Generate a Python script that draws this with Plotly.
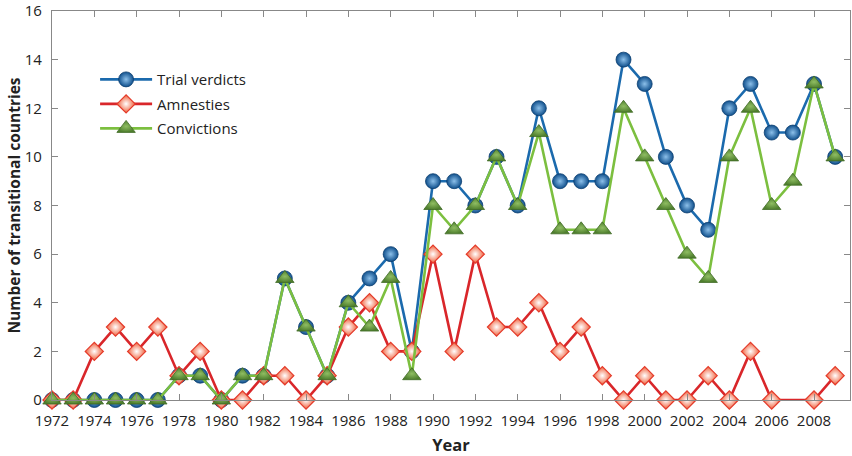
import plotly.graph_objects as go

years = list(range(1972, 2010))
trial_verdicts = [0, 0, 0, 0, 0, 0, 1, 1, 0, 1, 1, 5, 3, 1, 4, 5, 6, 2, 9, 9,
                  8, 10, 8, 12, 9, 9, 9, 14, 13, 10, 8, 7, 12, 13, 11, 11, 13, 10]
amnesties = [0, 0, 2, 3, 2, 3, 1, 2, 0, 0, 1, 1, 0, 1, 3, 4, 2, 2, 6, 2,
             6, 3, 3, 4, 2, 3, 1, 0, 1, 0, 0, 1, 0, 2, 0, None, 0, 1]
convictions = [0, 0, 0, 0, 0, 0, 1, 1, 0, 1, 1, 5, 3, 1, 4, 3, 5, 1, 8, 7,
               8, 10, 8, 11, 7, 7, 7, 12, 10, 8, 6, 5, 10, 12, 8, 9, 13, 10]
x_ticks = list(range(1972, 2010, 2))
y_ticks = list(range(0, 17, 2))

FONT = "Open Sans"

fig = go.Figure()
fig.add_trace(go.Scatter(
    x=years, y=trial_verdicts, name="Trial verdicts", mode="lines+markers",
    legendgroup="a",
    line=dict(color="#1b6aad", width=2.6),
    marker=dict(symbol="circle", size=15, color="#0f4f8c",
                gradient=dict(type="radial", color="#8cc0ea"),
                line=dict(color="#0d3f70", width=0.8)),
    cliponaxis=False, connectgaps=True))
fig.add_trace(go.Scatter(
    x=years, y=amnesties, name="Amnesties", mode="lines+markers",
    legendgroup="b",
    line=dict(color="#d9262a", width=2.6),
    marker=dict(symbol="diamond", size=14, color="#f0603a",
                gradient=dict(type="radial", color="#ffffff"),
                line=dict(color="#e43a2a", width=1.2)),
    cliponaxis=False, connectgaps=True))
fig.add_trace(go.Scatter(
    x=years, y=convictions, name="Convictions", mode="lines+markers",
    legendgroup="c",
    line=dict(color="#7cbf3f", width=2.6),
    marker=dict(symbol="triangle-up", size=16, color="#4f7f2e",
                gradient=dict(type="radial", color="#8fbd62"),
                line=dict(color="#3f6a25", width=0.8)),
    cliponaxis=False, connectgaps=True))

fig.update_layout(
    width=852, height=456,
    margin=dict(l=52, r=2, t=11, b=56),
    paper_bgcolor="white", plot_bgcolor="white",
    font=dict(family=FONT, size=14, color="#222"),
    showlegend=True,
    legend=dict(x=0.054, y=0.866, xanchor="left", yanchor="top",
                bgcolor="rgba(0,0,0,0)", font=dict(size=15, family=FONT),
                itemwidth=52, tracegroupgap=2),
)
fig.update_xaxes(
    range=[1972, 2009.7], tickvals=x_ticks, ticktext=[str(t) for t in x_ticks],
    automargin=False,
    showgrid=False, zeroline=False, showline=True, linecolor="#888", linewidth=1.2,
    mirror="ticks", ticks="inside", ticklen=6, tickcolor="#888",
    ticklabelstandoff=7, tickfont=dict(size=15),
    title=dict(text="<b>Year</b>", font=dict(size=16.5, family=FONT), standoff=12))
fig.update_yaxes(
    range=[0, 16], tickvals=y_ticks,
    automargin=False,
    showgrid=False, zeroline=False, showline=True, linecolor="#888", linewidth=1.2,
    mirror="ticks", ticks="inside", ticklen=6, tickcolor="#888",
    ticklabelstandoff=6, tickfont=dict(size=15),
    title=dict(text="<b>Number of transitional countries</b>", font=dict(size=15.5, family=FONT), standoff=0))

fig.write_html("out.html", config={"displayModeBar": False},
               post_script="document.body.style.margin='0';document.body.style.overflow='hidden';")
